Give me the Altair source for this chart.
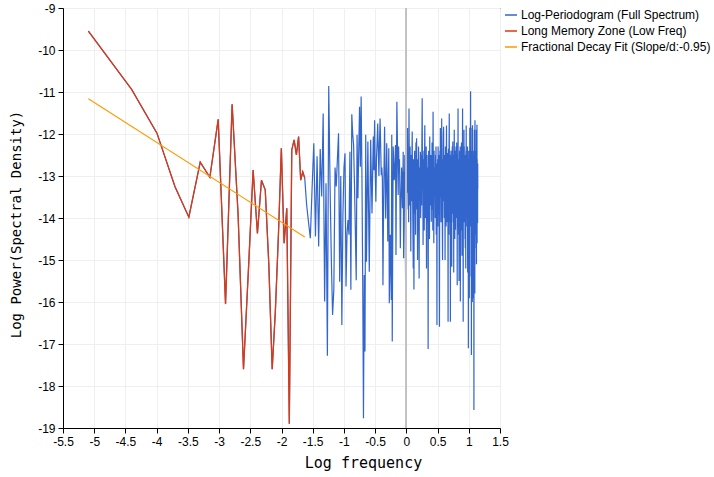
import math

import altair as alt
import pandas as pd

# Log-periodogram of a 1024-sample series at the Fourier frequencies 2*pi*j/n, j = 1..n/2
N_SAMPLES = 1024
M_LOW = 32  # low-frequency bandwidth used for the long-memory fit

# log spectral density, j = 1..32 (low-frequency zone)
low_freq_power = [
    -9.55, -10.94, -11.98, -13.25, -13.98, -12.67, -13.03, -11.65, -16.05, -11.29,
    -13.90, -17.60, -15.20, -12.86, -14.37, -13.10, -13.33, -15.10, -17.60, -16.20,
    -14.40, -12.34, -14.60, -13.77, -18.90, -12.38, -12.14, -12.50, -12.06, -13.10,
    -12.90, -13.05,
]

# log spectral density, j = 33..512
high_freq_power = [
    -13.69, -14.10, -14.48, -13.30, -12.22, -14.44, -12.53, -14.68, -12.36, -13.49,
    -11.51, -15.99, -13.17, -17.28, -10.86, -13.20, -15.00, -16.31, -15.70, -12.80,
    -13.25, -12.60, -11.98, -15.52, -13.00, -16.55, -13.93, -12.80, -12.46, -15.63,
    -14.37, -14.05, -14.40, -12.42, -15.71, -11.53, -12.00, -12.26, -13.21, -14.30,
    -15.48, -12.02, -13.53, -12.40, -11.35, -12.78, -11.11, -12.98, -15.50, -18.77,
    -15.36, -17.18, -12.02, -15.04, -13.50, -12.18, -13.80, -15.28, -13.60, -12.14,
    -13.00, -13.89, -12.90, -12.06, -12.86, -11.67, -12.90, -13.61, -12.58, -12.20,
    -11.75, -12.40, -13.00, -12.20, -11.63, -12.30, -12.98, -12.80, -13.06, -15.60,
    -14.00, -12.80, -11.83, -12.90, -14.01, -13.20, -12.22, -13.20, -14.56, -13.40,
    -12.34, -16.03, -15.00, -14.40, -15.20, -15.95, -12.02, -16.94, -14.50, -12.30,
    -12.70, -13.10, -12.98, -12.60, -12.26, -14.88, -13.00, -11.23, -12.00, -12.80,
    -13.45, -12.30, -12.90, -12.60, -13.50, -14.72, -13.80, -13.29, -12.80, -13.10,
    -13.77, -13.20, -12.42, -14.96, -12.90, -13.60, -12.50, -14.20, -15.50, -13.10,
    -12.40, -13.80, -12.70, -11.86, -13.40, -12.60, -14.10, -11.39, -12.90, -13.70,
    -12.30, -13.20, -14.80, -12.50, -13.60, -12.80, -11.94, -13.30, -14.20, -15.20,
    -12.60, -15.70, -13.00, -12.40, -13.90, -12.70, -14.40, -12.20, -13.50, -12.10,
    -13.80, -12.90, -15.00, -12.60, -13.40, -12.30, -14.10, -15.44, -12.80, -13.60,
    -12.90, -12.42, -14.00, -13.10, -12.50, -13.70, -12.20, -11.15, -13.30, -12.60,
    -14.64, -12.90, -13.50, -12.40, -14.30, -12.70, -11.79, -13.20, -14.00, -12.60,
    -13.40, -12.30, -15.20, -13.00, -12.50, -14.10, -12.80, -13.60, -17.12, -13.30,
    -12.40, -13.90, -12.70, -14.50, -12.06, -13.20, -12.90, -13.70, -12.50, -13.10,
    -14.09, -12.60, -13.40, -12.20, -13.80, -12.90, -14.30, -11.47, -13.00, -12.70,
    -14.60, -12.40, -13.50, -12.80, -13.20, -12.94, -14.00, -12.50, -13.60, -12.30,
    -14.40, -12.70, -13.30, -16.55, -12.90, -13.70, -12.60, -14.20, -12.30, -13.10,
    -12.80, -13.90, -12.50, -14.60, -16.59, -13.00, -12.40, -13.50, -11.86, -13.20,
    -12.70, -14.10, -12.90, -13.40, -11.63, -13.80, -12.60, -14.30, -15.00, -12.80,
    -13.30, -12.40, -12.00, -11.83, -13.60, -12.90, -14.00, -12.50, -13.20, -12.70,
    -15.00, -13.10, -12.30, -13.80, -12.40, -14.20, -12.90, -11.80, -13.50, -12.70,
    -14.10, -12.45, -13.30, -12.80, -13.90, -16.47, -12.60, -12.35, -12.90, -14.40,
    -12.30, -11.51, -13.20, -14.10, -13.80, -12.50, -14.00, -16.47, -12.90, -13.50,
    -12.40, -13.10, -12.80, -14.30, -15.16, -12.60, -13.60, -12.30, -13.90, -12.70,
    -12.18, -13.40, -12.90, -14.10, -12.50, -15.30, -12.80, -13.70, -11.90, -13.20,
    -12.60, -14.50, -12.90, -13.50, -12.40, -14.28, -12.70, -13.10, -12.30, -13.80,
    -12.90, -14.00, -12.20, -13.40, -12.60, -15.60, -12.80, -14.20, -12.50, -13.30,
    -11.39, -13.60, -12.70, -14.40, -12.90, -13.20, -15.50, -12.60, -13.70, -12.40,
    -14.10, -12.80, -13.50, -12.30, -15.99, -13.00, -12.70, -13.80, -12.50, -14.30,
    -12.90, -12.20, -13.40, -12.60, -14.90, -12.80, -13.60, -12.40, -11.39, -13.20,
    -12.90, -14.20, -16.47, -12.70, -13.50, -12.30, -13.90, -11.90, -14.10, -12.30,
    -13.40, -12.60, -13.80, -12.90, -14.50, -12.50, -14.72, -13.10, -12.70, -15.20,
    -12.40, -14.00, -11.80, -13.30, -12.60, -12.80, -13.70, -12.50, -14.20, -12.80,
    -13.40, -12.30, -15.30, -12.70, -14.40, -12.60, -13.20, -17.10, -12.90, -13.60,
    -12.40, -14.10, -12.80, -13.30, -15.91, -12.70, -13.50, -11.85, -13.90, -12.60,
    -14.20, -12.90, -13.40, -10.98, -13.10, -12.70, -15.40, -12.50, -13.60, -17.26,
    -12.80, -13.30, -12.40, -14.30, -11.85, -13.50, -16.00, -11.79, -13.80, -12.70,
    -14.10, -12.40, -13.20, -12.90, -15.91, -13.40, -12.60, -13.90, -18.57, -12.80,
    -13.50, -11.90, -14.20, -12.70, -13.10, -15.80, -11.67, -13.70, -12.90, -14.40,
    -12.60, -13.30, -12.80, -14.00, -12.40, -13.60, -14.72, -11.90, -15.10, -12.50,
    -13.90, -12.80, -11.78, -14.60, -12.60, -14.10, -12.90, -14.12, -12.70, -13.30,
]

log_power = low_freq_power + high_freq_power
assert len(log_power) == N_SAMPLES // 2

# GPH-style regression over the low-frequency zone
FIT_SLOPE = -0.95
FIT_INTERCEPT = -16.0

SERIES = [
    "Log-Periodogram (Full Spectrum)",
    "Long Memory Zone (Low Freq)",
    f"Fractional Decay Fit (Slope/d:{FIT_SLOPE})",
]
COLORS = ["#3366CC", "#DC3912", "#FF9900"]

X_TICKS = [-5.5, -5, -4.5, -4, -3.5, -3, -2.5, -2, -1.5, -1, -0.5, 0, 0.5, 1, 1.5]
Y_TICKS = list(range(-19, -8))

log_freq = [math.log(2 * math.pi * j / N_SAMPLES) for j in range(1, N_SAMPLES // 2 + 1)]

rows = []
for j, (lf, lp) in enumerate(zip(log_freq, log_power), start=1):
    rows.append({"j": j, "x": lf, "y": lp, "series": SERIES[0]})
    if j <= M_LOW:
        rows.append({"j": j, "x": lf, "y": lp, "series": SERIES[1]})
for j in (1, M_LOW):
    lf = log_freq[j - 1]
    rows.append({"j": j, "x": lf, "y": FIT_INTERCEPT + FIT_SLOPE * lf, "series": SERIES[2]})
df = pd.DataFrame(rows)

x_enc = alt.X(
    "x:Q",
    scale=alt.Scale(domain=[-5.5, 1.5], nice=False, zero=False),
    axis=alt.Axis(
        values=X_TICKS,
        tickCount=len(X_TICKS) + 5,
        labelExpr="'' + datum.value",
        labelOverlap=False,
        labelFlush=False,
        title="Log frequency",
        titleFont="DejaVu Sans Mono",
        titleFontSize=15,
        titleFontWeight="normal",
        titleX=300,
        titleY=27,
        titleAlign="center",
        titleBaseline="top",
    ),
)
y_enc = alt.Y(
    "y:Q",
    scale=alt.Scale(domain=[-19, -9], nice=False, zero=False),
    axis=alt.Axis(
        values=Y_TICKS,
        tickCount=len(Y_TICKS) + 5,
        labelExpr="'' + datum.value",
        labelOverlap=False,
        labelFlush=False,
        title="Log Power(Spectral Density)",
        titleFont="DejaVu Sans Mono",
        titleFontSize=14,
        titleFontWeight="normal",
        titleX=-40,
        titleY=216,
        titleAlign="center",
        titleBaseline="bottom",
        titleAngle=270,
    ),
)
color_enc = alt.Color(
    "series:N",
    scale=alt.Scale(domain=SERIES, range=COLORS),
    legend=alt.Legend(
        title=None,
        orient="none",
        legendX=441,
        legendY=0,
        symbolType="stroke",
        symbolSize=144,
        symbolStrokeWidth=1.5,
        labelFont="Liberation Sans",
        labelFontSize=12,
        labelColor="#000000",
        labelOffset=3,
        labelLimit=400,
        rowPadding=3,
        padding=0,
    ),
)

base = alt.Chart(df)


def series_line(name, width):
    return (
        base.transform_filter(alt.datum.series == name)
        .mark_line(strokeWidth=width, clip=True)
        .encode(x=x_enc, y=y_enc, color=color_enc, order=alt.Order("j:Q"))
    )


# vertical reference line at log frequency 0
zero_rule = base.mark_rule(color="#c0c0c0", strokeWidth=1).encode(x=alt.datum(0))

chart = (
    alt.layer(
        series_line(SERIES[0], 1.2),
        zero_rule,
        series_line(SERIES[1], 1.3),
        series_line(SERIES[2], 1.1),
    )
    .properties(
        width=437,
        height=420,
        autosize=alt.AutoSizeParams(type="none"),
        padding={"left": 63, "top": 8, "right": 214, "bottom": 49},
        background="white",
    )
    .configure_view(stroke="#000000", strokeWidth=1)
    .configure_axis(
        domainColor="#000000",
        tickColor="#000000",
        tickSize=5,
        labelFont="Liberation Sans",
        labelFontSize=12,
        labelColor="#000000",
        labelOverlap=False,
        titleColor="#000000",
        gridColor="#efefef",
        labelPadding=3,
    )
)

chart.save("out.html", embed_options={"renderer": "svg", "actions": False})
